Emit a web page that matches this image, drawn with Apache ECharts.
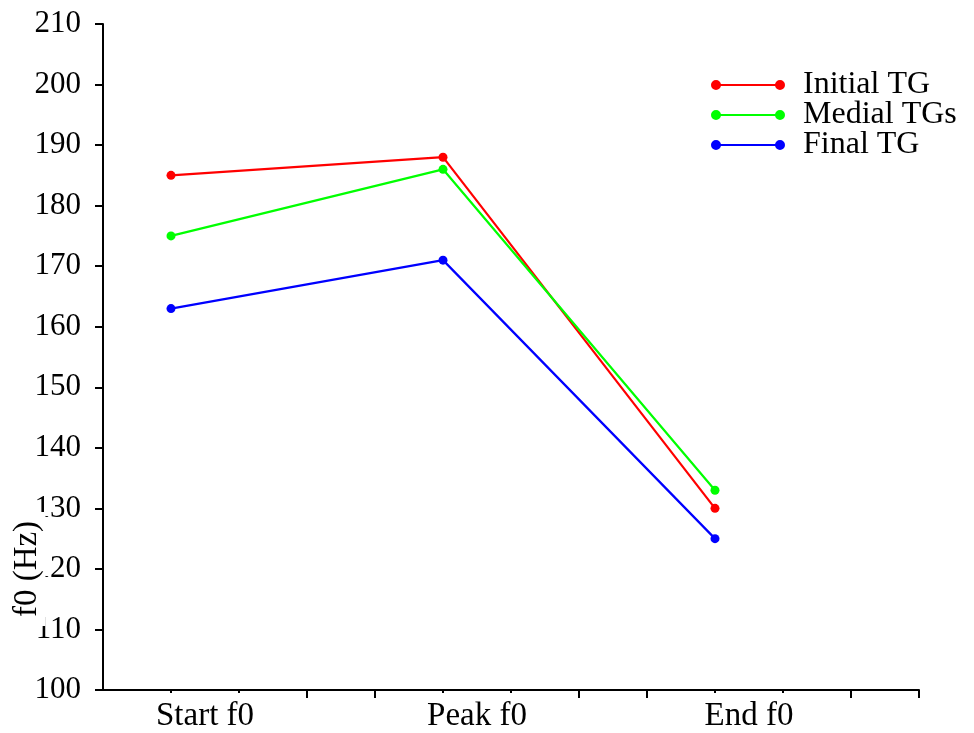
<!DOCTYPE html>
<html>
<head>
<meta charset="utf-8">
<script src="https://cdn.jsdelivr.net/npm/echarts@6/dist/echarts.min.js"></script>
<style>
  html, body { margin: 0; padding: 0; background: #fff; }
  #chart { width: 974px; height: 733px; }
</style>
</head>
<body>
<div id="chart"></div>
<script>
// Measurement points along the contour and their axis slots
const categories = ['Start f0', 'Peak f0', 'End f0'];
const slots = [1, 5, 9];

// Mean f0 (Hz) per tone-group position
const initialTG = [185, 188, 130];
const medialTGs = [175, 186, 133];
const finalTG = [163, 171, 125];

const seriesNames = ['Initial TG', 'Medial TGs', 'Final TG'];
const seriesColors = ['#ff0000', '#00ff00', '#0000ff'];

// y axis scale
const yMin = 100, yMax = 210, yStep = 10;

const slotCount = 13;
const slotAxis = Array.from({ length: slotCount }, (_, i) => String(i));
const longTicks = [3, 4, 7, 8, 11, 12];
const shortTicks = [1, 2, 5, 6, 9, 10];

const serif = '"Liberation Serif", "DejaVu Serif", serif';

function pairs(values) {
  return values.map((v, i) => [slots[i], v]);
}

// Legend glyph: short line with a dot at each end
const legendIcon = 'path://M0,5A5,5 0 1,1 10,5A5,5 0 1,1 0,5ZM5,4H69V6H5ZM64,5A5,5 0 1,1 74,5A5,5 0 1,1 64,5Z';

const chart = echarts.init(document.getElementById('chart'), null, { renderer: 'canvas' });

const values = [initialTG, medialTGs, finalTG];

chart.setOption({
  animation: false,
  backgroundColor: '#fff',
  grid: { left: 103, right: 55, top: 24, bottom: 43, containLabel: false },
  legend: {
    orient: 'vertical',
    left: 711,
    top: 69,
    padding: 0,
    itemGap: -2,
    itemWidth: 74,
    itemHeight: 10,
    icon: legendIcon,
    itemStyle: { borderWidth: 0 },
    textStyle: {
      fontFamily: serif,
      fontSize: 32,
      color: '#000',
      lineHeight: 28,
      padding: [0, 0, 0, 13]
    },
    data: seriesNames
  },
  xAxis: [
    {
      type: 'category',
      data: slotAxis,
      boundaryGap: false,
      axisLine: { show: true, lineStyle: { color: '#000', width: 2 } },
      axisTick: {
        show: true,
        length: 8,
        lineStyle: { color: '#000', width: 2 },
        interval: (idx) => longTicks.indexOf(idx) >= 0
      },
      axisLabel: { show: false },
      splitLine: { show: false }
    },
    {
      type: 'category',
      data: slotAxis,
      boundaryGap: false,
      position: 'bottom',
      axisLine: { show: false },
      axisTick: {
        show: true,
        length: 3,
        lineStyle: { color: '#000', width: 2 },
        interval: (idx) => shortTicks.indexOf(idx) >= 0
      },
      axisLabel: { show: false },
      splitLine: { show: false }
    },
    {
      type: 'value',
      min: 0,
      max: slotCount - 1,
      interval: 0.5,
      position: 'bottom',
      axisLine: { show: false },
      axisTick: { show: false },
      splitLine: { show: false },
      axisLabel: {
        margin: 10,
        fontFamily: serif,
        fontSize: 33,
        color: '#000',
        formatter: (v) => {
          const i = slots.indexOf(v - 0.5);
          return i >= 0 ? categories[i] : '';
        }
      }
    }
  ],
  yAxis: {
    type: 'value',
    min: yMin,
    max: yMax,
    interval: yStep,
    axisLine: { show: true, lineStyle: { color: '#000', width: 2 } },
    axisTick: { show: true, length: 8, lineStyle: { color: '#000', width: 2 } },
    axisLabel: {
      margin: 22,
      fontFamily: serif,
      fontSize: 31,
      color: '#000'
    },
    splitLine: { show: false }
  },
  graphic: [
    {
      type: 'text',
      z: 100,
      x: 27,
      y: 569,
      rotation: Math.PI / 2,
      style: {
        text: 'f0 (Hz)',
        fontFamily: serif,
        fontSize: 33,
        fill: '#000',
        align: 'center',
        verticalAlign: 'middle',
        backgroundColor: '#fff',
        padding: [2, 9]
      }
    }
  ],
  series: values.map((vals, k) => ({
    name: seriesNames[k],
    type: 'line',
    xAxisIndex: 0,
    data: pairs(vals),
    symbol: 'circle',
    symbolSize: 9,
    showSymbol: true,
    color: seriesColors[k],
    itemStyle: { color: seriesColors[k] },
    lineStyle: { color: seriesColors[k], width: 2.2 }
  }))
});
</script>
</body>
</html>
